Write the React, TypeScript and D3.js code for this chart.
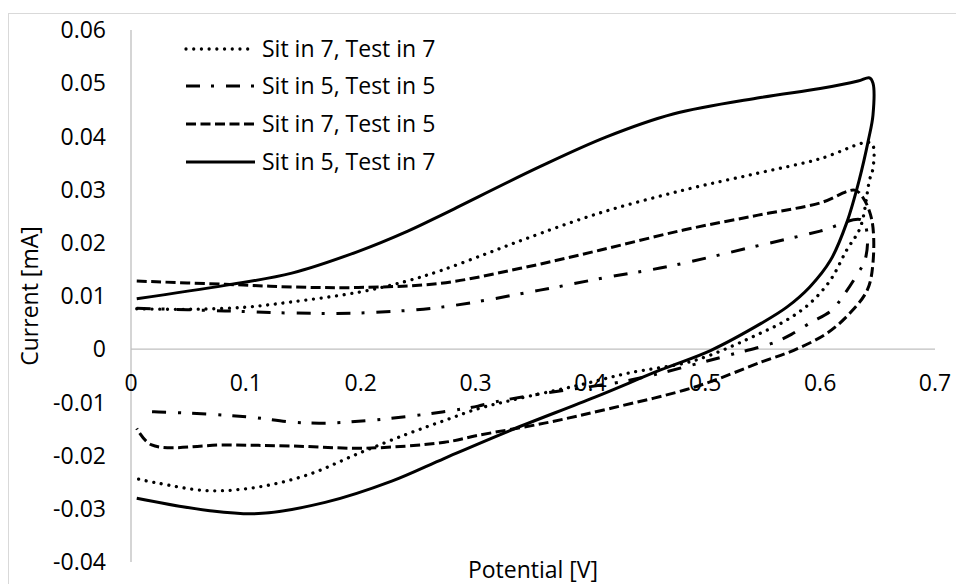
import React, { useEffect, useRef } from 'react';
import * as d3 from 'd3';

// potential [V], current [mA], forward scan then reverse
const sit7Test7: [number, number][] = [
  [0.005, 0.0076], [0.05, 0.0075], [0.1, 0.0079], [0.14, 0.0089], [0.198, 0.0107],
  [0.24, 0.0128], [0.27, 0.0148], [0.31, 0.018], [0.343, 0.0207], [0.408, 0.0256],
  [0.481, 0.0299], [0.546, 0.0331], [0.6, 0.0358], [0.642, 0.0389], [0.646, 0.0383],
  [0.646, 0.034], [0.643, 0.0318], [0.635, 0.0229], [0.623, 0.0186], [0.609, 0.013],
  [0.591, 0.0086], [0.571, 0.0055], [0.548, 0.003], [0.491, -0.0021], [0.433, -0.0045],
  [0.389, -0.0068], [0.331, -0.0096], [0.302, -0.0112], [0.273, -0.0134], [0.241, -0.0159],
  [0.198, -0.0196], [0.154, -0.0236], [0.111, -0.0259], [0.067, -0.0266], [0.024, -0.0252],
  [0.006, -0.0244],
];

const sit5Test5: [number, number][] = [
  [0.005, 0.0077], [0.082, 0.0072], [0.14, 0.0068], [0.198, 0.0068], [0.27, 0.0079],
  [0.356, 0.0111], [0.414, 0.0135], [0.469, 0.0156], [0.541, 0.0192], [0.6, 0.0222],
  [0.636, 0.0243], [0.641, 0.0215], [0.639, 0.0167], [0.633, 0.0143], [0.62, 0.01],
  [0.61, 0.0073], [0.591, 0.0049], [0.575, 0.0028], [0.558, 0.0011], [0.526, -0.0008],
  [0.488, -0.003], [0.435, -0.0058], [0.36, -0.0083], [0.317, -0.0099], [0.302, -0.0107],
  [0.271, -0.0118], [0.212, -0.0133], [0.169, -0.0139], [0.14, -0.0137], [0.105, -0.0128],
  [0.067, -0.0122], [0.024, -0.0118], [0.01, -0.0117],
];

const sit7Test5: [number, number][] = [
  [0.005, 0.0128], [0.082, 0.0122], [0.14, 0.0117], [0.198, 0.0116], [0.27, 0.0124],
  [0.339, 0.0152], [0.408, 0.0186], [0.481, 0.0224], [0.546, 0.0252], [0.6, 0.0275],
  [0.63, 0.0299], [0.637, 0.0286], [0.645, 0.0243], [0.646, 0.0162], [0.641, 0.0111],
  [0.626, 0.0068], [0.606, 0.003], [0.577, -0.0002], [0.549, -0.0024], [0.491, -0.0071],
  [0.418, -0.0111], [0.36, -0.0139], [0.302, -0.0162], [0.273, -0.0175], [0.204, -0.0186],
  [0.14, -0.0182], [0.082, -0.018], [0.018, -0.018], [0.005, -0.0149],
];

const sit5Test7: [number, number][] = [
  [0.005, 0.0095], [0.082, 0.012], [0.14, 0.0143], [0.198, 0.0184], [0.241, 0.0222],
  [0.273, 0.0255], [0.356, 0.0343], [0.414, 0.0399], [0.472, 0.0442], [0.548, 0.0473],
  [0.6, 0.049], [0.633, 0.0504], [0.643, 0.051], [0.646, 0.05], [0.646, 0.044],
  [0.642, 0.0393], [0.634, 0.0318], [0.623, 0.0237], [0.609, 0.0167], [0.591, 0.0117],
  [0.571, 0.0079], [0.549, 0.0049], [0.505, -0.0002], [0.461, -0.0039], [0.404, -0.009],
  [0.331, -0.0152], [0.273, -0.0205], [0.227, -0.0248], [0.169, -0.0288], [0.111, -0.0309],
  [0.067, -0.0303], [0.005, -0.028],
];

const seriesNames = ['Sit in 7, Test in 7', 'Sit in 5, Test in 5', 'Sit in 7, Test in 5', 'Sit in 5, Test in 7'];
const seriesData = [sit7Test7, sit5Test5, sit7Test5, sit5Test7];
const dashes = ['0.01 7.7', '14 11 3 12', '10 4.5', null];

const xTicks = [0, 0.1, 0.2, 0.3, 0.4, 0.5, 0.6, 0.7];
const yTicks = [-0.04, -0.03, -0.02, -0.01, 0, 0.01, 0.02, 0.03, 0.04, 0.05, 0.06];

const font = '"Open Sans", sans-serif';
const fontSize = 23;
const fmtY = (d: number) => d3.format('.2~f')(d).replace('\u2212', '-');
const fmtX = (d: number) => d3.format('.1~f')(d).replace('\u2212', '-');

const App = () => {
  const ref = useRef<SVGSVGElement | null>(null);

  useEffect(() => {
    if (!ref.current) return;
    const svg = d3.select(ref.current);
    svg.selectAll('*').remove();

    const x = d3.scaleLinear().domain([0, 0.7]).range([131, 935]);
    const y = d3.scaleLinear().domain([-0.04, 0.06]).range([562, 30]);

    // chart border
    svg.append('rect')
      .attr('x', 8.5).attr('y', 13.5)
      .attr('width', 1000).attr('height', 700)
      .attr('fill', 'white')
      .attr('stroke', '#d9d9d9');

    // axes
    svg.append('line')
      .attr('x1', x(0)).attr('x2', x(0))
      .attr('y1', y(0.06)).attr('y2', y(-0.04))
      .attr('stroke', '#bfbfbf').attr('stroke-width', 1.3);
    svg.append('line')
      .attr('x1', x(0)).attr('x2', x(0.7))
      .attr('y1', y(0)).attr('y2', y(0))
      .attr('stroke', '#bfbfbf').attr('stroke-width', 1.3);

    svg.append('g').selectAll('text')
      .data(yTicks)
      .enter()
      .append('text')
      .attr('x', 106)
      .attr('y', d => y(d))
      .attr('dy', '0.36em')
      .attr('text-anchor', 'end')
      .attr('font-family', font)
      .attr('font-size', fontSize)
      .attr('fill', '#000')
      .text(d => fmtY(d));

    svg.append('g').selectAll('text')
      .data(xTicks)
      .enter()
      .append('text')
      .attr('x', d => x(d))
      .attr('y', 383)
      .attr('dy', '0.36em')
      .attr('text-anchor', 'middle')
      .attr('font-family', font)
      .attr('font-size', fontSize)
      .attr('fill', '#000')
      .text(d => fmtX(d));

    const line = d3.line<[number, number]>()
      .x(d => x(d[0]))
      .y(d => y(d[1]))
      .curve(d3.curveCatmullRom.alpha(0.5));

    seriesData.forEach((data, i) => {
      const p = svg.append('path')
        .attr('d', line(data))
        .attr('fill', 'none')
        .attr('stroke', '#000')
        .attr('stroke-width', 3)
        .attr('stroke-linejoin', 'round');
      if (dashes[i]) p.attr('stroke-dasharray', dashes[i] as string);
      if (i === 0) p.attr('stroke-linecap', 'round').attr('stroke-width', 3.3);
    });

    // legend
    const legendY = [49, 86, 124, 162];
    seriesNames.forEach((name, i) => {
      const l = svg.append('line')
        .attr('x1', 186).attr('x2', 255)
        .attr('y1', legendY[i]).attr('y2', legendY[i])
        .attr('stroke', '#000')
        .attr('stroke-width', 3);
      if (dashes[i]) l.attr('stroke-dasharray', dashes[i] as string);
      if (i === 0) l.attr('stroke-linecap', 'round').attr('stroke-width', 3.3);
      svg.append('text')
        .attr('x', 262)
        .attr('y', legendY[i])
        .attr('dy', '0.36em')
        .attr('font-family', font)
        .attr('font-size', fontSize)
        .attr('fill', '#000')
        .text(name);
    });

    // axis titles
    svg.append('text')
      .attr('transform', `translate(30, ${(y(0.06) + y(-0.04)) / 2}) rotate(-90)`)
      .attr('dy', '0.36em')
      .attr('text-anchor', 'middle')
      .attr('font-family', font)
      .attr('font-size', fontSize)
      .attr('fill', '#000')
      .text('Current [mA]');
    svg.append('text')
      .attr('x', (x(0) + x(0.7)) / 2)
      .attr('y', 570)
      .attr('dy', '0.36em')
      .attr('text-anchor', 'middle')
      .attr('font-family', font)
      .attr('font-size', fontSize)
      .attr('fill', '#000')
      .text('Potential [V]');
  }, []);

  return (
    <div style={{ position: 'fixed', left: 0, top: 0 }}>
      <svg ref={ref} width={956} height={584} style={{ display: 'block', background: 'white' }} />
    </div>
  );
};

export default App;
